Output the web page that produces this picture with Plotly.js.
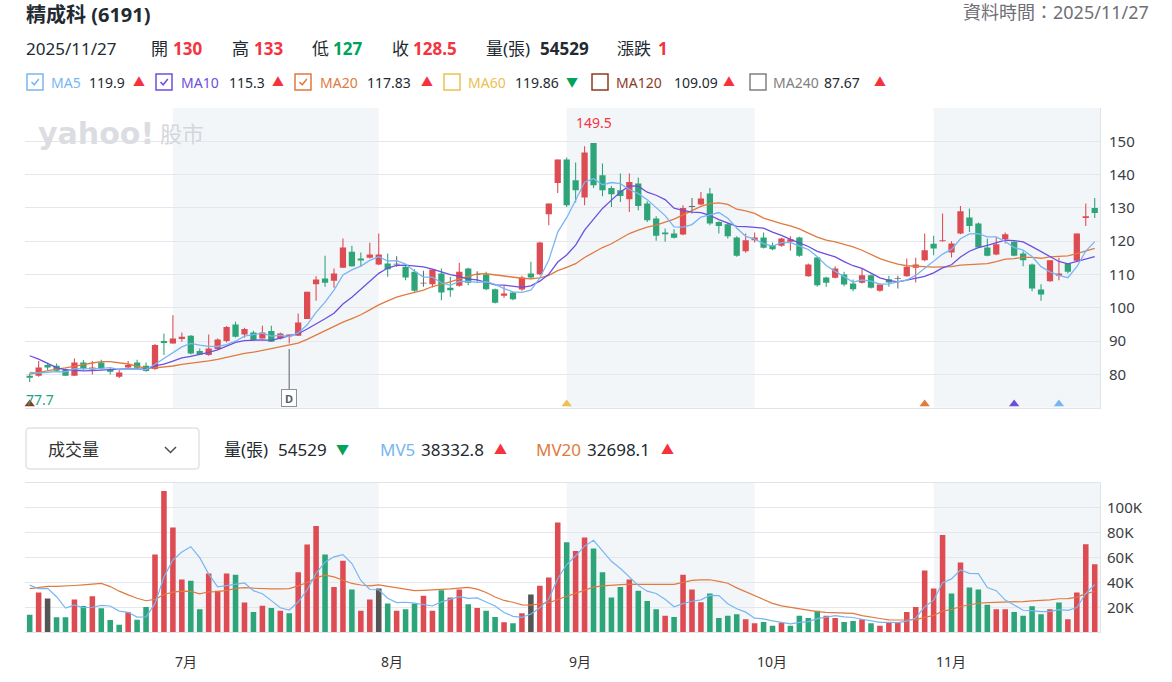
<!DOCTYPE html>
<html><head><meta charset="utf-8">
<script src="https://cdn.plot.ly/plotly-3.0.1.min.js"></script>
<style>html,body{margin:0;padding:0;background:#fff}#chart{width:1172px;height:682px}</style>
</head><body><div id="chart"></div>
<script>
// ---------------- DATA ----------------
const stockTitle = '精成科 (6191)';
const dataTimeText = '資料時間：2025/11/27';
const lastDateText = '2025/11/27';

const openP = [79.6,79.6,82.8,82.6,81.3,79.6,83.6,81.5,83.6,81.5,79.3,82.1,83.6,82.6,81.6,90.0,89.3,90.6,91.6,87.0,
85.8,87.6,90.0,95.0,92.0,92.6,90.8,93.0,90.8,91.4,91.6,96.6,107.1,108.8,108.1,112.0,116.8,114.8,115.0,113.0,
113.3,113.0,112.3,110.8,107.3,107.1,110.3,106.0,106.6,111.8,109.9,110.0,105.6,103.6,104.6,105.5,110.3,110.1,128.1,137.5,
144.5,138.3,133.1,149.5,139.8,136.0,135.3,132.6,137.3,131.3,126.8,122.6,122.3,122.0,130.3,131.0,134.3,125.8,125.1,121.1,
117.0,120.3,121.1,118.8,118.6,119.8,121.1,109.5,115.1,109.1,109.0,110.0,107.3,107.5,109.8,105.1,108.6,108.7,109.5,112.0,
114.3,119.2,120.0,116.6,122.3,127.1,125.3,118.1,116.0,120.6,119.8,116.3,113.0,105.5,108.0,109.6,113.3,114.1,127.0,130.0];
const highP = [80.3,84.0,83.5,83.3,81.8,84.8,84.3,84.0,84.4,82.1,81.3,84.0,84.4,83.6,89.1,92.3,97.8,92.6,91.8,87.8,
92.0,90.8,94.5,95.8,94.0,93.1,94.6,94.6,92.6,92.0,98.3,104.8,109.5,115.6,111.8,120.8,118.6,116.6,119.5,122.3,
116.3,115.5,112.6,111.6,111.1,111.5,111.8,109.3,113.5,112.0,111.0,110.8,105.8,106.6,104.8,109.6,113.8,119.8,131.3,144.5,
145.1,143.6,148.5,149.5,143.3,136.6,140.3,140.3,139.1,132.0,127.5,123.8,123.6,130.8,133.0,134.8,136.0,126.0,125.5,121.5,
122.3,122.6,122.6,119.6,121.0,121.5,121.3,113.3,115.3,109.3,112.5,110.8,108.5,111.8,110.0,107.3,109.6,109.6,114.8,115.0,
122.3,121.6,128.3,120.0,130.6,129.8,125.6,120.8,121.3,122.6,120.0,117.0,113.3,107.1,114.3,115.0,113.3,122.3,131.3,133.0];
const lowP = [77.7,79.3,81.3,80.8,79.6,79.6,81.3,80.0,81.5,80.0,78.9,81.8,81.8,80.8,81.3,85.8,89.3,89.8,86.0,85.8,
85.6,87.3,89.6,91.1,91.0,90.0,90.8,89.8,90.5,89.3,91.6,96.6,102.1,106.3,106.0,112.0,112.3,112.3,114.8,112.8,
109.3,112.3,108.3,104.8,106.3,106.1,102.3,103.3,106.3,106.8,107.8,105.3,101.3,103.0,102.3,105.1,108.6,109.8,124.8,134.5,
130.3,131.6,130.8,136.0,133.5,130.3,131.8,128.8,129.3,125.8,120.1,119.8,120.8,121.8,128.3,130.8,124.8,122.3,120.8,115.3,
116.5,119.6,117.8,117.3,118.3,117.1,115.3,109.3,106.3,106.3,108.8,106.5,105.0,107.3,105.8,104.8,106.3,105.8,109.3,107.6,
114.0,115.8,119.8,115.1,122.1,122.8,118.3,115.5,115.8,119.3,115.5,112.5,105.0,102.1,107.8,108.3,110.3,113.8,124.6,127.0];
const closeP = [79.0,82.1,82.1,81.1,79.6,83.6,81.8,82.1,81.8,80.8,80.6,82.8,82.0,81.0,88.8,89.4,90.8,91.3,86.3,86.0,
87.8,90.5,94.2,91.3,93.6,90.3,92.6,89.8,92.3,92.0,95.6,104.8,108.5,107.5,110.3,118.1,112.5,114.2,116.0,116.0,
111.6,113.0,109.1,105.1,107.3,111.5,104.6,105.3,110.8,107.5,109.9,105.6,101.5,104.3,102.6,109.1,109.1,119.6,131.3,144.5,
130.8,135.3,146.6,136.8,135.3,134.1,133.6,137.8,130.6,126.3,121.6,122.1,121.0,130.0,130.3,132.8,125.3,124.6,121.5,115.6,
120.3,121.1,118.0,117.6,120.8,120.6,115.6,113.0,106.8,107.5,111.8,107.0,105.6,109.8,106.0,107.0,107.6,108.7,112.3,113.0,
117.3,117.8,120.3,119.3,129.0,124.6,118.1,115.6,119.1,122.1,115.6,114.3,105.8,104.0,114.3,110.3,110.8,122.3,127.5,128.5];
// volume in 張 (lots)
const volume = [14100,32000,27200,12000,12000,26400,21000,29000,19200,9800,6100,16000,10100,20200,62400,113300,84000,42400,41300,18400,
47200,33300,47200,46100,24000,16300,21300,19400,17300,15200,48200,70400,85300,62400,36300,57300,34400,17300,26400,35200,
23200,17300,18400,23200,29300,17300,33800,28000,34400,22400,19400,17300,12300,8000,7200,15200,30400,37300,44000,88000,
72200,65300,76000,67200,48200,28000,36300,42400,33300,25100,18400,13300,12300,46100,34400,24200,31200,11500,13300,14400,
10400,7200,8200,5300,7700,5300,13300,11500,17300,13300,11500,8200,9000,10400,7200,5300,8000,7700,16300,20200,
49500,35200,78000,31200,56000,36000,34400,22100,18400,18400,16300,13300,20800,14400,18400,24000,10400,32000,70700,54529];
// estimated sessions before the visible window (needed for the moving averages)
const priorCloses = [71,72,72,73,72,73,73,74,80,86,92,95,94,86,86,83,81,80,80];
const priorVolumes = [11000,13000,12000,10000,14000,12000,11000,13000,60000,80000,75000,65000,60000,40000,36000,46500,25800,45300,57400];

const monthLabels = ['7月','8月','9月','10月','11月'];
const monthStart = [16,39,60,81,101];
const shadedMonthIdx = [0,2,4];

const maLegend = [
  {name:'MA5',   value:'119.9',  dir:'up',   color:'#78b6f2', checked:true},
  {name:'MA10',  value:'115.3',  dir:'up',   color:'#6d4fdf', checked:true},
  {name:'MA20',  value:'117.83', dir:'up',   color:'#e07a3e', checked:true},
  {name:'MA60',  value:'119.86', dir:'down', color:'#ecc14f', checked:false},
  {name:'MA120', value:'109.09', dir:'up',   color:'#8e3b1f', checked:false},
  {name:'MA240', value:'87.67',  dir:'up',   color:'#808080', checked:false}
];
const volLegend = [
  {name:'量(張)', value:'54529',   dir:'down', color:'#232a31'},
  {name:'MV5',   value:'38332.8', dir:'up',   color:'#78b6f2'},
  {name:'MV20',  value:'32698.1', dir:'up',   color:'#e07a3e'}
];
const signalIdx = [0,60,100,110,115];
const signalColor = ['#8e3b1f','#ecc14f','#e07a3e','#6d4fdf','#78b6f2'];
const dividendIdx = 29;
const dividendLabel = 'D';

// ---------------- STYLE ----------------
const W = 1172, H = 682;
const FONT = '"Noto Sans", "Noto Sans CJK TC", sans-serif';
const RED = '#dd4b53', GREEN = '#2ea479', GRAY = '#6b6b6b';
const TXT_RED = '#f5333f', TXT_GREEN = '#00a35a', DARK = '#232a31';
const SHADE = '#f3f6f9', GRID = '#e5e7eb', AXLINE = '#e1e3e8';
const n = closeP.length;
const idx = closeP.map((_, i) => i);
const xmin = -0.525, xmax = 119.59;

const allC = priorCloses.concat(closeP);
const allV = priorVolumes.concat(volume);
const off = priorCloses.length;
function ma(arr, p) {
  return idx.map(i => { let s = 0; for (let k = 0; k < p; k++) s += arr[i + off - k]; return s / p; });
}
const prevClose = idx.map(i => allC[i + off - 1]);

const candleColor = idx.map(i => closeP[i] > openP[i] ? RED : closeP[i] < openP[i] ? GREEN : GRAY);
const volColor = idx.map(i => closeP[i] > prevClose[i] ? RED : closeP[i] < prevClose[i] ? GREEN : '#555');

const traces = [];
traces.push({type:'bar', x:idx, base:lowP, y:idx.map(i => highP[i]-lowP[i]), width:0.12,
  marker:{color:candleColor, line:{width:0}}, xaxis:'x', yaxis:'y', hoverinfo:'skip'});
traces.push({type:'bar', x:idx, base:idx.map(i => Math.min(openP[i], closeP[i])),
  y:idx.map(i => Math.max(Math.abs(closeP[i]-openP[i]), 0.25)), width:0.7,
  marker:{color:candleColor, line:{width:0}}, xaxis:'x', yaxis:'y', hoverinfo:'skip'});
[[20,'#e07a3e'],[10,'#6d4fdf'],[5,'#78b6f2']].forEach(([p,c]) => {
  traces.push({type:'scatter', mode:'lines', x:idx, y:ma(allC,p), line:{color:c, width:1.3},
    xaxis:'x', yaxis:'y', hoverinfo:'skip'});
});
traces.push({type:'scatter', mode:'markers', x:signalIdx, y:signalIdx.map(() => 71.1), cliponaxis:false,
  marker:{symbol:'triangle-up', size:9, color:signalColor}, xaxis:'x', yaxis:'y', hoverinfo:'skip'});

traces.push({type:'bar', x:idx, y:volume, width:0.62, marker:{color:volColor, line:{width:0}},
  xaxis:'x2', yaxis:'y2', hoverinfo:'skip'});
[[20,'#e07a3e'],[5,'#78b6f2']].forEach(([p,c]) => {
  traces.push({type:'scatter', mode:'lines', x:idx, y:ma(allV,p), line:{color:c, width:1.2},
    xaxis:'x2', yaxis:'y2', hoverinfo:'skip'});
});

// ---------------- SHAPES & ANNOTATIONS ----------------
const shapes = [], ann = [];
const P = (x, y) => (x / W) + ',' + (1 - y / H);
function T(x, y, text, size, color, opt) {
  ann.push(Object.assign({xref:'paper', yref:'paper', x:x/W, y:1-y/H, text:text, showarrow:false,
    xanchor:'left', yanchor:'middle', borderpad:0, font:{family:FONT, size:size, color:color}}, opt || {}));
}

shadedMonthIdx.forEach(k => {
  const x0 = monthStart[k], x1 = k + 1 < monthStart.length ? monthStart[k+1] : xmax;
  shapes.push({type:'rect', xref:'x', yref:'y domain', x0:x0, x1:x1, y0:0, y1:1, fillcolor:SHADE, line:{width:0}, layer:'below'});
  shapes.push({type:'rect', xref:'x2', yref:'y2 domain', x0:x0, x1:x1, y0:0, y1:1, fillcolor:SHADE, line:{width:0}, layer:'below'});
});

// header
T(25, 15, '<b>' + stockTitle + '</b>', 20, DARK);
T(1150, 12, dataTimeText, 18, '#6e7075', {xanchor:'right'});
const last = n - 1;
const chg = +(closeP[last] - prevClose[last]).toFixed(2);
const cc = v => v > prevClose[last] ? TXT_RED : v < prevClose[last] ? TXT_GREEN : DARK;
const row2 = [
  [25, lastDateText, DARK, false], [150, '開', DARK, false], [172, String(openP[last]), cc(openP[last]), true],
  [231, '高', DARK, false], [253, String(highP[last]), cc(highP[last]), true],
  [311, '低', DARK, false], [332, String(lowP[last]), cc(lowP[last]), true],
  [391, '收', DARK, false], [412, String(closeP[last]), cc(closeP[last]), true],
  [485, '量(張)', DARK, false], [539, String(volume[last]), DARK, true],
  [616, '漲跌', DARK, false], [657, String(chg), chg > 0 ? TXT_RED : chg < 0 ? TXT_GREEN : DARK, true]
];
row2.forEach(([x, t, c, b]) => T(x, 48, b ? '<b>' + t + '</b>' : t, 17, c));

// MA legend
const legBoxX = [27, 156, 295, 444, 592, 750];
const legNameX = [50, 180, 319, 467, 615, 772];
const legValX = [88, 228, 366, 514, 673, 823];
const legArrX = [132, 271, 420, 565, 722, 873];
maLegend.forEach((m, k) => {
  const bx = legBoxX[k], by = 74;
  shapes.push({type:'path', xref:'paper', yref:'paper',
    path:'M' + P(bx, by) + 'L' + P(bx+16, by) + 'L' + P(bx+16, by+16) + 'L' + P(bx, by+16) + 'Z',
    line:{color:m.color, width:1.5}, fillcolor:'rgba(0,0,0,0)'});
  if (m.checked) shapes.push({type:'path', xref:'paper', yref:'paper',
    path:'M' + P(bx+4.5, by+8) + 'L' + P(bx+7.2, by+10.8) + 'L' + P(bx+11.8, by+5), line:{color:m.color, width:1.5}});
  T(legNameX[k], 82, m.name, 14, m.color);
  T(legValX[k], 82, m.value, 14, DARK);
  T(legArrX[k], 82, m.dir === 'up' ? '▲' : '▼', 12, m.dir === 'up' ? TXT_RED : TXT_GREEN);
});

// watermark
T(37, 133, '<b>yahoo!</b>', 30, '#dcdde2', {font:{family:'DejaVu Sans', size:30, color:'#dcdde2'}});
T(159, 133, '股市', 22, '#d4d6dc');

// high / low labels
let iMax = 0, iMin = 0;
idx.forEach(i => { if (highP[i] > highP[iMax]) iMax = i; if (lowP[i] < lowP[iMin]) iMin = i; });
ann.push({xref:'x', yref:'y', x:iMax, y:highP[iMax], text:String(highP[iMax]), showarrow:false, yanchor:'bottom',
  yshift:9, font:{family:FONT, size:14, color:TXT_RED}});
ann.push({xref:'x', yref:'y', x:iMin, y:lowP[iMin], text:String(lowP[iMin]), showarrow:false, yanchor:'top',
  xanchor:'left', xshift:-6, yshift:-6, font:{family:FONT, size:14, color:'#1fa382'}});

// dividend marker
shapes.push({type:'line', xref:'x', yref:'y', x0:dividendIdx, x1:dividendIdx, y0:lowP[dividendIdx]-1.7, y1:75.6,
  line:{color:'#8c919a', width:1.5}});
ann.push({xref:'x', yref:'y', x:dividendIdx, y:70.25, text:'<b>' + dividendLabel + '</b>', showarrow:false, yanchor:'bottom',
  width:12, height:14, borderpad:1, bordercolor:'#8c919a', borderwidth:1, bgcolor:'#ffffff',
  font:{family:FONT, size:11, color:'#5a5f66'}});

// volume header
const r = 4, dx0 = 26, dx1 = 199, dy0 = 428, dy1 = 469;
shapes.push({type:'path', xref:'paper', yref:'paper',
  path:'M' + P(dx0+r, dy0) + 'L' + P(dx1-r, dy0) + 'Q' + P(dx1, dy0) + ' ' + P(dx1, dy0+r) +
       'L' + P(dx1, dy1-r) + 'Q' + P(dx1, dy1) + ' ' + P(dx1-r, dy1) +
       'L' + P(dx0+r, dy1) + 'Q' + P(dx0, dy1) + ' ' + P(dx0, dy1-r) +
       'L' + P(dx0, dy0+r) + 'Q' + P(dx0, dy0) + ' ' + P(dx0+r, dy0) + 'Z',
  line:{color:'#dfe2e7', width:1.5}, fillcolor:'#ffffff'});
shapes.push({type:'path', xref:'paper', yref:'paper',
  path:'M' + P(165, 447) + 'L' + P(170.5, 452.5) + 'L' + P(176, 447), line:{color:'#4a4f57', width:1.5}});
T(47, 449, '成交量', 17, '#333');
const vNameX = [223, 379, 535], vValX = [277, 420, 586], vArrX = [335, 493, 660];
volLegend.forEach((m, k) => {
  T(vNameX[k], 449, m.name, 17, m.color);
  T(vValX[k], 449, m.value, 17, DARK);
  T(vArrX[k], 449, m.dir === 'up' ? '▲' : '▼', 13, m.dir === 'up' ? TXT_RED : TXT_GREEN);
});

// month labels
monthStart.forEach((s, k) => {
  ann.push({xref:'x2', yref:'paper', x:s, y:1 - 661/H, text:monthLabels[k], showarrow:false, xanchor:'left',
    yanchor:'middle', xshift:0, font:{family:FONT, size:14, color:'#333'}});
});

const axisCommon = {showgrid:false, zeroline:false, showticklabels:false, fixedrange:true, range:[xmin, xmax],
  domain:[25/W, 1100/W], showline:true, linecolor:AXLINE, linewidth:1};
const layout = {
  width:W, height:H, margin:{l:0, r:0, t:0, b:0}, paper_bgcolor:'#ffffff', plot_bgcolor:'rgba(0,0,0,0)',
  showlegend:false, barmode:'overlay', hovermode:false,
  xaxis:Object.assign({anchor:'y'}, axisCommon),
  yaxis:{domain:[1-407.7/H, 1-108/H], range:[70, 160], side:'right', anchor:'x', tickvals:[80,90,100,110,120,130,140,150],
    showgrid:true, gridcolor:GRID, gridwidth:1, zeroline:false, showline:true, linecolor:AXLINE, ticks:'',
    ticklabelstandoff:5, tickfont:{family:FONT, size:15, color:'#3a3d42'}, fixedrange:true},
  xaxis2:Object.assign({anchor:'y2', mirror:true}, axisCommon),
  yaxis2:{domain:[1-632.3/H, 1-482.7/H], range:[0, 120000], side:'right', anchor:'x2',
    tickvals:[20000,40000,60000,80000,100000], ticktext:['20K','40K','60K','80K','100K'],
    showgrid:true, gridcolor:GRID, gridwidth:1, zeroline:false, showline:true, linecolor:AXLINE, ticks:'',
    ticklabelstandoff:3, tickfont:{family:FONT, size:15, color:'#3a3d42'}, fixedrange:true},
  shapes:shapes, annotations:ann
};
Plotly.newPlot('chart', traces, layout, {displayModeBar:false, staticPlot:true});
</script></body></html>
